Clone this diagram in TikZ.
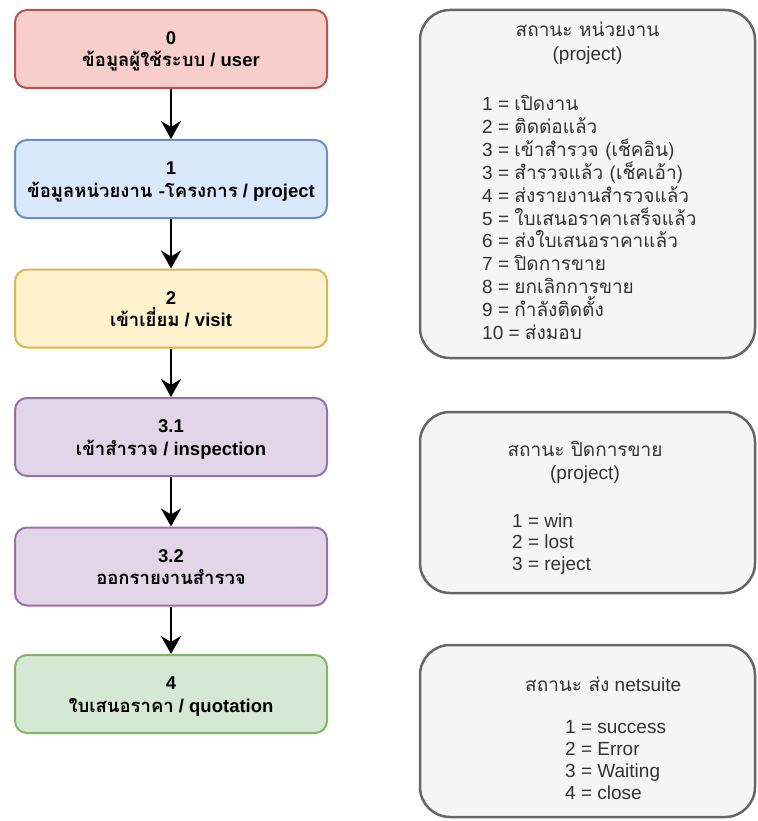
\documentclass[tikz,border=0pt]{standalone}
\usepackage{fontspec}
\setmainfont{Liberation Sans}
\newfontfamily\thaifont[Script=Thai]{Loma}
\usetikzlibrary{arrows.meta}
\newcommand{\thx}[1]{{\thaifont #1}}

\definecolor{redfill}{HTML}{F8CECC}
\definecolor{redline}{HTML}{B85450}
\definecolor{bluefill}{HTML}{DAE8FC}
\definecolor{blueline}{HTML}{6C8EBF}
\definecolor{yellowfill}{HTML}{FFF2CC}
\definecolor{yellowline}{HTML}{D6B656}
\definecolor{purplefill}{HTML}{E1D5E7}
\definecolor{purpleline}{HTML}{9673A6}
\definecolor{greenfill}{HTML}{D5E8D4}
\definecolor{greenline}{HTML}{82B366}
\definecolor{legendfill}{HTML}{F5F5F5}
\definecolor{legendline}{HTML}{666666}
\definecolor{legendink}{HTML}{333333}

\begin{document}
\begin{tikzpicture}[x=1pt, y=-1pt,
  stage/.style={draw, line width=2pt, rounded corners=12pt,
    minimum width=312pt, minimum height=78pt, inner sep=0pt},
  stagetext/.style={inner sep=0pt, anchor=base,
    font=\bfseries\fontsize{18.5}{22}\selectfont, text height=13pt, text depth=4pt},
  legend/.style={draw=legendline, fill=legendfill, line width=2.5pt,
    rounded corners=30pt, inner sep=0pt},
  legendtext/.style={font=\fontsize{19}{22}\selectfont, text=legendink,
    inner sep=0pt, text height=13pt, text depth=4pt},
  flow/.style={-{Stealth[length=18pt, width=20pt, inset=6pt]}, line width=2.5pt}
]
\path[use as bounding box] (0,0) rectangle (757,821);

% stages of the workflow
\node[stage, fill=redfill, draw=redline] (s0) at (171,49) {};
\node[stage, fill=bluefill, draw=blueline] (s1) at (171,179) {};
\node[stage, fill=yellowfill, draw=yellowline] (s2) at (171,308.5) {};
\node[stage, fill=purplefill, draw=purpleline] (s31) at (171,437) {};
\node[stage, fill=purplefill, draw=purpleline] (s32) at (171,566.5) {};
\node[stage, fill=greenfill, draw=greenline] (s4) at (171,694) {};

% stage captions: number above, name below
\foreach \s/\n/\name in {
  s0/0/{\thx{ข้อมูลผู้ใช้ระบบ} / user},
  s1/1/{\thx{ข้อมูลหน่วยงาน -โครงการ} / project},
  s2/2/{\thx{เข้าเยี่ยม} / visit},
  s31/3.1/{\thx{เข้าสำรวจ} / inspection},
  s32/3.2/{\thx{ออกรายงานสำรวจ}},
  s4/4/{\thx{ใบเสนอราคา} / quotation}} {
  \node[stagetext] (\s num) at ([yshift=4.5pt]\s.center) {\n};
  \node[stagetext] (\s name) at ([yshift=-18pt]\s.center) {\name};
}

\draw[flow] (s0) -- (s1);
\draw[flow] (s1) -- (s2);
\draw[flow] (s2) -- (s31);
\draw[flow] (s31) -- (s32);
\draw[flow] (s32) -- (s4);

% project status legend
\node[legend, minimum width=335pt, minimum height=348pt] (lp) at (587.5,184) {};
\node[legendtext, anchor=base] (lptitle) at (587.5,37) {\thx{สถานะ หน่วยงาน}};
\node[legendtext, anchor=base] (lpsub) at (587.5,60.5) {(project)};
\foreach \t [count=\i] in {
  1 = \thx{เปิดงาน},
  2 = \thx{ติดต่อแล้ว},
  3 = \thx{เข้าสำรวจ (เช็คอิน)},
  3 = \thx{สำรวจแล้ว (เช็คเอ้า)},
  4 = \thx{ส่งรายงานสำรวจแล้ว},
  5 = \thx{ใบเสนอราคาเสร็จแล้ว},
  6 = \thx{ส่งใบเสนอราคาแล้ว},
  7 = \thx{ปิดการขาย},
  8 = \thx{ยกเลิกการขาย},
  9 = \thx{กำลังติดตั้ง},
  10 = \thx{ส่งมอบ}}
  \node[legendtext, anchor=base west] (lp\i) at (482,{111+22.8*(\i-1)}) {\t};

% closing status legend
\node[legend, minimum width=335pt, minimum height=181pt] (lc) at (587.5,502.5) {};
\node[legendtext, anchor=base] (lctitle) at (585,456) {\thx{สถานะ ปิดการขาย}};
\node[legendtext, anchor=base] (lcsub) at (585,479.5) {(project)};
\foreach \t [count=\i] in {1 = win, 2 = lost, 3 = reject}
  \node[legendtext, anchor=base west] (lc\i) at (512,{527+21.5*(\i-1)}) {\t};

% netsuite status legend
\node[legend, minimum width=335pt, minimum height=172pt] (ln) at (587.5,731) {};
\node[legendtext, anchor=base west] (lntitle) at (525,691) {\thx{สถานะ ส่ง} netsuite};
\foreach \t [count=\i] in {1 = success, 2 = Error, 3 = Waiting, 4 = close}
  \node[legendtext, anchor=base west] (ln\i) at (565,{733+22.3*(\i-1)}) {\t};
\end{tikzpicture}
\end{document}
